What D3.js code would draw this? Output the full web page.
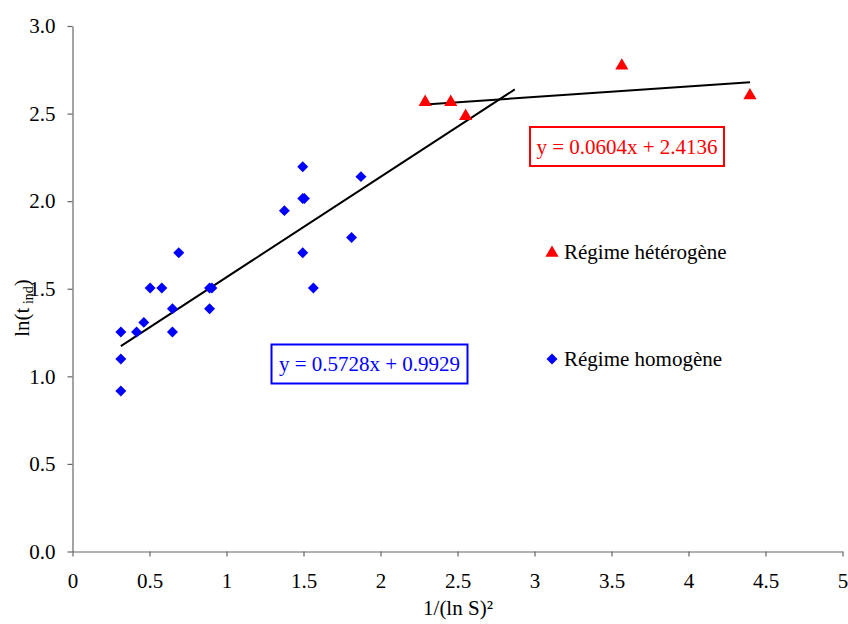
<!DOCTYPE html>
<html><head><meta charset="utf-8">
<script src="https://cdn.jsdelivr.net/npm/d3@7"></script>
<style>body{margin:0;background:#fff}svg{display:block}svg text{font-family:"Liberation Serif","Times New Roman",serif !important}</style>
</head><body>
<svg id="c" width="848" height="624"></svg>
<script>
// Régime homogène
const homoX = [0.314,0.314,0.314,0.416,0.463,0.504,0.58,0.649,0.649,0.69,0.89,0.905,0.89,1.376,1.495,1.506,1.495,1.495,1.564,1.812,1.873];
const homoY = [1.253,1.099,0.916,1.253,1.308,1.504,1.504,1.386,1.253,1.705,1.504,1.504,1.386,1.946,2.015,2.015,2.197,1.705,1.504,1.792,2.140];
// Régime hétérogène
const hetX = [2.29,2.456,2.553,3.567,4.399];
const hetY = [2.565,2.565,2.485,2.773,2.603];
// Regression lines
const homoFit = {slope:0.5728, intercept:0.9929, x0:0.314, x1:2.872, label:"y = 0.5728x + 0.9929"};
const hetFit = {slope:0.0604, intercept:2.4136, x0:2.29, x1:4.4, label:"y = 0.0604x + 2.4136"};
const xTicks = [0,0.5,1,1.5,2,2.5,3,3.5,4,4.5,5];
const yTicks = [0,0.5,1,1.5,2,2.5,3];

const svg = d3.select("#c");
const x = d3.scaleLinear().domain([0,5]).range([72.5,842.5]);
const y = d3.scaleLinear().domain([0,3]).range([551.5,26]);
const fs = 21;

// axes
const xa = svg.append("g").attr("transform","translate(0,551.5)")
  .call(d3.axisBottom(x).tickValues(xTicks).tickSize(5).tickSizeOuter(0).tickPadding(17).tickFormat(d=>String(d)));
const ya = svg.append("g").attr("transform","translate(72.5,0)")
  .call(d3.axisLeft(y).tickValues(yTicks).tickSize(5).tickSizeOuter(0).tickPadding(12).tickFormat(d3.format(".1f")));
[xa,ya].forEach(a=>{
  a.attr("font-family",null).attr("font-size",null);
  a.selectAll("path,line").attr("stroke","#666").attr("stroke-width",1.2);
  a.selectAll("text").style("font-size",fs+"px").attr("fill","#000");
});

// regression lines
[homoFit,hetFit].forEach(f=>{
  svg.append("line")
    .attr("x1",x(f.x0)).attr("y1",y(f.slope*f.x0+f.intercept))
    .attr("x2",x(f.x1)).attr("y2",y(f.slope*f.x1+f.intercept))
    .attr("stroke","#000").attr("stroke-width",2);
});

// markers
const diamond = d3.symbol().type(d3.symbolSquare).size(60);
svg.append("g").selectAll("path").data(homoX.map((v,i)=>[v,homoY[i]])).join("path")
  .attr("d",diamond()).attr("fill","#0000ff")
  .attr("transform",d=>`translate(${x(d[0])},${y(d[1])}) rotate(45)`);
const tri = d3.symbol().type(d3.symbolTriangle).size(75);
svg.append("g").selectAll("path").data(hetX.map((v,i)=>[v,hetY[i]])).join("path")
  .attr("d",tri()).attr("fill","#ff0000")
  .attr("transform",d=>`translate(${x(d[0])},${y(d[1])})`);

// equation boxes
function eqBox(cx, cy, w, h, label, color){
  svg.append("rect").attr("x",cx-w/2).attr("y",cy-h/2).attr("width",w).attr("height",h)
    .attr("fill","#fff").attr("stroke",color).attr("stroke-width",2);
  svg.append("text").attr("x",cx).attr("y",cy+7).attr("text-anchor","middle")
    .attr("font-size",21).attr("fill",color).text(label);
}
eqBox(627,146.5,194,39,hetFit.label,"#ff0000");
eqBox(369.5,364,196,39,homoFit.label,"#0000ff");

// legend
svg.append("path").attr("d",tri()).attr("fill","#ff0000").attr("transform","translate(552,253)");
svg.append("text").attr("x",564).attr("y",259).attr("font-size",fs).text("Régime hétérogène");
svg.append("path").attr("d",diamond()).attr("fill","#0000ff").attr("transform","translate(552,359) rotate(45)");
svg.append("text").attr("x",564).attr("y",366).attr("font-size",fs).text("Régime homogène");

// axis titles
svg.append("text").attr("x",458).attr("y",615).attr("text-anchor","middle").attr("font-size",fs).text("1/(ln S)²");
const yt = svg.append("text").attr("transform","translate(29,308) rotate(-90)").attr("text-anchor","middle").attr("font-size",fs);
yt.append("tspan").text("ln(t");
yt.append("tspan").attr("font-size",14).attr("dy",4).text(" ind");
yt.append("tspan").attr("dy",-4).text(")");
</script>
</body></html>
